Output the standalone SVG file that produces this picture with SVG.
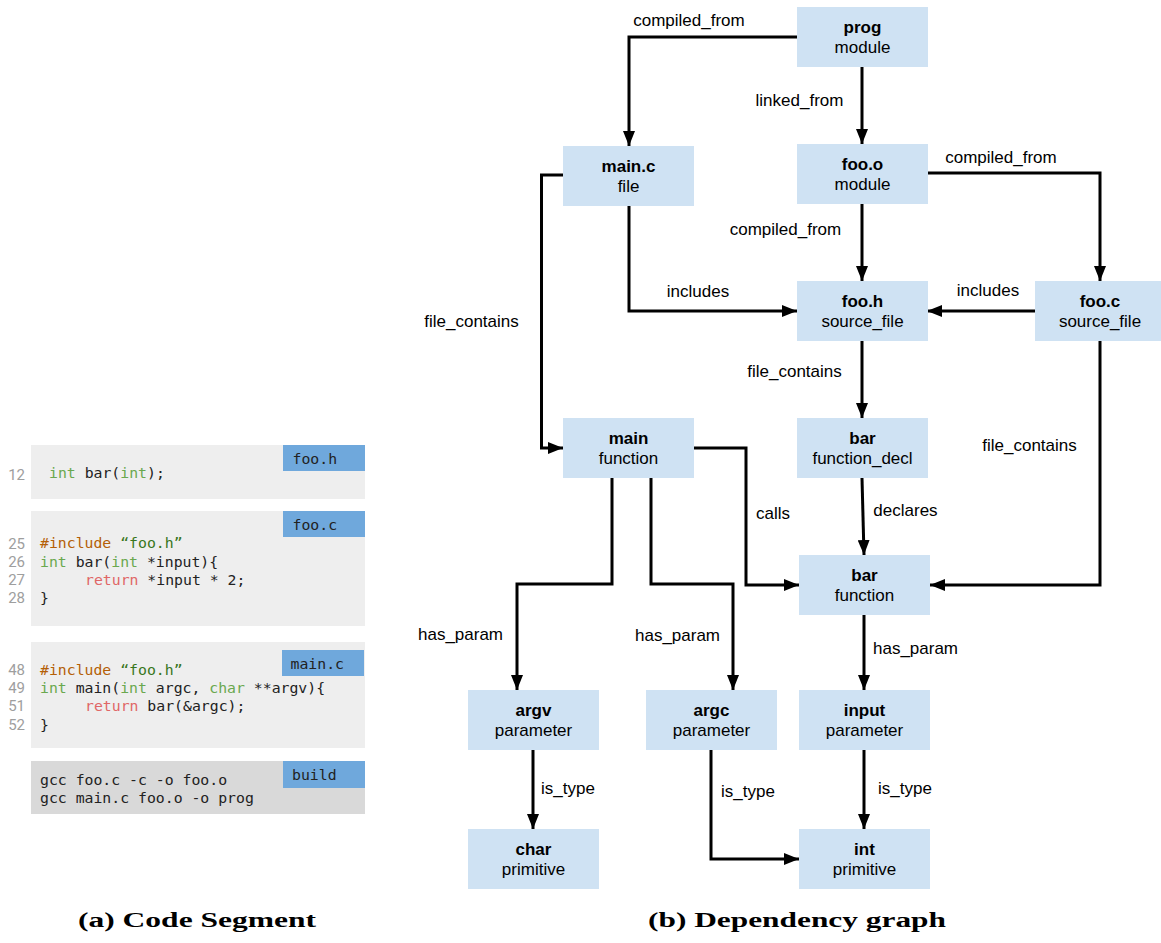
<svg xmlns="http://www.w3.org/2000/svg" width="1161" height="943" viewBox="0 0 1161 943">
  <style>
    .node rect { fill: #cfe2f3; }
    .node text { font-family: "Liberation Sans", Arial, sans-serif; font-size: 17px; fill: #000; text-anchor: middle; }
    .node .name { font-weight: bold; }
    .edge { fill: none; stroke: #000; stroke-width: 3; marker-end: url(#arrow); }
    .lbl { font-family: "Liberation Sans", Arial, sans-serif; font-size: 17px; fill: #000; text-anchor: middle; }
    .panel { fill: #eeeeee; }
    .panel.dark { fill: #d9d9d9; }
    .tag { fill: #6fa8dc; }
    .code { font-family: "DejaVu Sans Mono", "Liberation Mono", monospace; font-size: 14.8px; fill: #222; white-space: pre; }
    .ln { font-family: Roboto, "Liberation Sans", sans-serif; font-size: 15px; fill: #9e9e9e; text-anchor: end; }
    .kw { fill: #6aa84f; }
    .pp { fill: #b45f06; }
    .str { fill: #38761d; }
    .ret { fill: #e06666; }
    .cap { font-family: "Liberation Serif", "DejaVu Serif", serif; font-weight: bold; font-size: 20px; fill: #000; }
  </style>
  <defs>
    <marker id="arrow" markerUnits="userSpaceOnUse" markerWidth="16" markerHeight="12" refX="15" refY="6" orient="auto">
      <path d="M0,0 L15,6 L0,12 z" fill="#000"/>
    </marker>
  </defs>

  <rect width="1161" height="943" fill="#fff"/>

  <!-- Source listings -->
  <g id="code-foo-h">
    <rect class="panel" x="31" y="445" width="334" height="54"/>
    <rect class="tag" x="283" y="445" width="82" height="26"/>
    <text class="code" x="292.5" y="464">foo.h</text>
    <text class="ln" x="25" y="480">12</text>
    <text class="code" x="49" y="477.5"><tspan class="kw">int</tspan> bar(<tspan class="kw">int</tspan>);</text>
  </g>

  <g id="code-foo-c">
    <rect class="panel" x="31" y="511" width="334" height="115"/>
    <rect class="tag" x="283" y="511" width="82" height="26"/>
    <text class="code" x="292.5" y="530">foo.c</text>
    <text class="ln" x="25" y="548.5">25</text>
    <text class="ln" x="25" y="567">26</text>
    <text class="ln" x="25" y="585">27</text>
    <text class="ln" x="25" y="603">28</text>
    <text class="code" x="40" y="548"><tspan class="pp">#include</tspan> <tspan class="str">“foo.h”</tspan></text>
    <text class="code" x="40" y="566.5"><tspan class="kw">int</tspan> bar(<tspan class="kw">int</tspan> *input){</text>
    <text class="code" x="85" y="584.5"><tspan class="ret">return</tspan> *input * 2;</text>
    <text class="code" x="40" y="602.5">}</text>
  </g>

  <g id="code-main-c">
    <rect class="panel" x="31" y="642" width="334" height="106"/>
    <rect class="tag" x="282" y="650" width="82" height="26"/>
    <text class="code" x="290.5" y="669">main.c</text>
    <text class="ln" x="25" y="675">48</text>
    <text class="ln" x="25" y="693">49</text>
    <text class="ln" x="25" y="711">51</text>
    <text class="ln" x="25" y="729.5">52</text>
    <text class="code" x="40" y="674.5"><tspan class="pp">#include</tspan> <tspan class="str">“foo.h”</tspan></text>
    <text class="code" x="40" y="692.5"><tspan class="kw">int</tspan> main(<tspan class="kw">int</tspan> argc, <tspan class="kw">char</tspan> **argv){</text>
    <text class="code" x="85" y="711"><tspan class="ret">return</tspan> bar(&amp;argc);</text>
    <text class="code" x="40" y="729.5">}</text>
  </g>

  <g id="code-build">
    <rect class="panel dark" x="31" y="761" width="334" height="53"/>
    <rect class="tag" x="283" y="761" width="82" height="27"/>
    <text class="code" x="292" y="780">build</text>
    <text class="code" x="40" y="785">gcc foo.c -c -o foo.o</text>
    <text class="code" x="40" y="803">gcc main.c foo.o -o prog</text>
  </g>

  <!-- Dependency graph: connectors -->
  <g id="connectors">
    <path class="edge" d="M797,37 H629 V146"/>
    <path class="edge" d="M862,67 V144"/>
    <path class="edge" d="M927,173 H1100 V281"/>
    <path class="edge" d="M862,204 V281"/>
    <path class="edge" d="M629,206 V311 H797"/>
    <path class="edge" d="M1035,311 H927"/>
    <path class="edge" d="M563,175 H541.5 V448 H563"/>
    <path class="edge" d="M862,341 V418"/>
    <path class="edge" d="M694,448 H746 V585 H799"/>
    <path class="edge" d="M862,478 L864,555"/>
    <path class="edge" d="M1100,341 V585 H930"/>
    <path class="edge" d="M612,478 V584 H517 V690"/>
    <path class="edge" d="M651,478 V584 H733 V690"/>
    <path class="edge" d="M864,615 V690"/>
    <path class="edge" d="M533,750 V829"/>
    <path class="edge" d="M711,750 V859 H799"/>
    <path class="edge" d="M864,750 V829"/>

    <text class="lbl" x="689" y="26">compiled_from</text>
    <text class="lbl" x="799.5" y="106">linked_from</text>
    <text class="lbl" x="1001" y="163">compiled_from</text>
    <text class="lbl" x="785.5" y="235">compiled_from</text>
    <text class="lbl" x="698" y="297">includes</text>
    <text class="lbl" x="988" y="296">includes</text>
    <text class="lbl" x="471.5" y="327">file_contains</text>
    <text class="lbl" x="794.5" y="377">file_contains</text>
    <text class="lbl" x="1029.5" y="451">file_contains</text>
    <text class="lbl" x="773" y="519">calls</text>
    <text class="lbl" x="905.5" y="516">declares</text>
    <text class="lbl" x="460.5" y="640">has_param</text>
    <text class="lbl" x="677.5" y="641">has_param</text>
    <text class="lbl" x="915.5" y="654">has_param</text>
    <text class="lbl" x="568" y="794">is_type</text>
    <text class="lbl" x="748" y="797">is_type</text>
    <text class="lbl" x="905" y="794">is_type</text>
  </g>

  <!-- Dependency graph: nodes -->
  <g id="prog" class="node">
    <rect x="797" y="7" width="131" height="60"/>
    <text class="name" x="862.5" y="33">prog</text>
    <text x="862.5" y="53">module</text>
  </g>
  <g id="main-c" class="node">
    <rect x="563" y="146" width="131" height="60"/>
    <text class="name" x="628.5" y="172">main.c</text>
    <text x="628.5" y="192">file</text>
  </g>
  <g id="foo-o" class="node">
    <rect x="797" y="144" width="131" height="60"/>
    <text class="name" x="862.5" y="170">foo.o</text>
    <text x="862.5" y="190">module</text>
  </g>
  <g id="foo-h" class="node">
    <rect x="797" y="281" width="131" height="60"/>
    <text class="name" x="862.5" y="307">foo.h</text>
    <text x="862.5" y="327">source_file</text>
  </g>
  <g id="foo-c" class="node">
    <rect x="1035" y="281" width="131" height="60"/>
    <text class="name" x="1100" y="307">foo.c</text>
    <text x="1100" y="327">source_file</text>
  </g>
  <g id="main-fn" class="node">
    <rect x="563" y="418" width="131" height="60"/>
    <text class="name" x="628.5" y="444">main</text>
    <text x="628.5" y="464">function</text>
  </g>
  <g id="bar-decl" class="node">
    <rect x="797" y="418" width="131" height="60"/>
    <text class="name" x="862.5" y="444">bar</text>
    <text x="862.5" y="464">function_decl</text>
  </g>
  <g id="bar-fn" class="node">
    <rect x="799" y="555" width="131" height="60"/>
    <text class="name" x="864.5" y="581">bar</text>
    <text x="864.5" y="601">function</text>
  </g>
  <g id="argv" class="node">
    <rect x="468" y="690" width="131" height="60"/>
    <text class="name" x="533.5" y="716">argv</text>
    <text x="533.5" y="736">parameter</text>
  </g>
  <g id="argc" class="node">
    <rect x="646" y="690" width="131" height="60"/>
    <text class="name" x="711.5" y="716">argc</text>
    <text x="711.5" y="736">parameter</text>
  </g>
  <g id="input" class="node">
    <rect x="799" y="690" width="131" height="60"/>
    <text class="name" x="864.5" y="716">input</text>
    <text x="864.5" y="736">parameter</text>
  </g>
  <g id="char" class="node">
    <rect x="468" y="829" width="131" height="60"/>
    <text class="name" x="533.5" y="855">char</text>
    <text x="533.5" y="875">primitive</text>
  </g>
  <g id="int" class="node">
    <rect x="799" y="829" width="131" height="60"/>
    <text class="name" x="864.5" y="855">int</text>
    <text x="864.5" y="875">primitive</text>
  </g>

  <!-- Captions -->
  <text class="cap" x="78" y="927" textLength="238" lengthAdjust="spacingAndGlyphs">(a) Code Segment</text>
  <text class="cap" x="648" y="927" textLength="298" lengthAdjust="spacingAndGlyphs">(b) Dependency graph</text>
</svg>
